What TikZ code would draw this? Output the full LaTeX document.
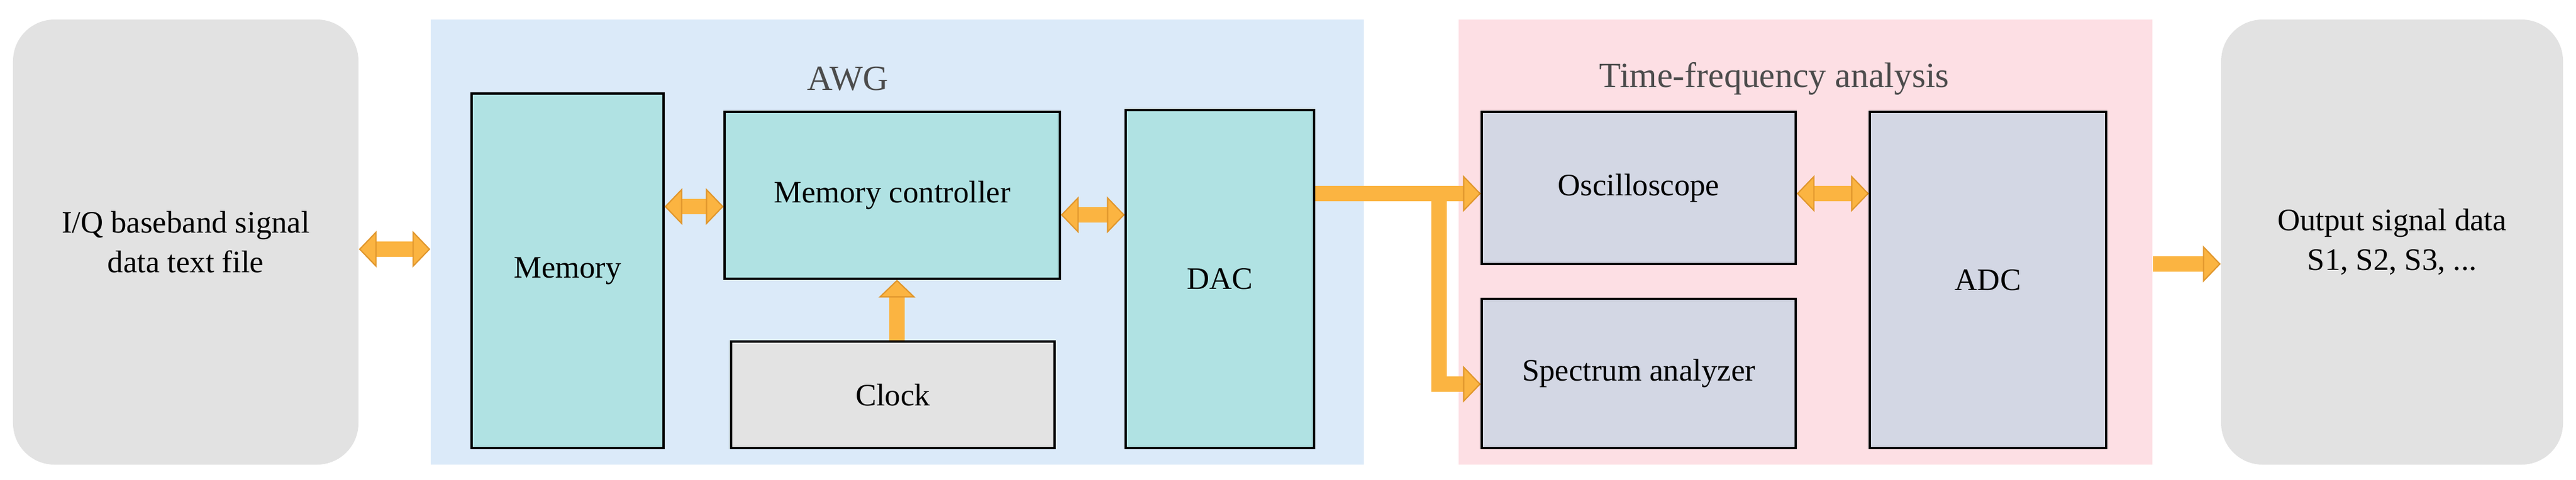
\documentclass[tikz,border=0pt]{standalone}
\usepackage{fontspec}
\setmainfont{Liberation Serif}
\usetikzlibrary{arrows.meta}
\definecolor{sidegray}{HTML}{E2E2E2}
\definecolor{awgblue}{HTML}{DBEAF9}
\definecolor{tfpink}{HTML}{FDDFE4}
\definecolor{teal}{HTML}{B0E2E3}
\definecolor{slate}{HTML}{D3D7E4}
\definecolor{clockgray}{HTML}{E3E3E3}
\definecolor{arrfill}{HTML}{FBB441}
\definecolor{arredge}{HTML}{E0962C}
\begin{document}
\begin{tikzpicture}[x=1cm,y=-1cm,
  txt/.style={font=\fontsize{15}{19}\selectfont, align=center},
  blk/.style={draw=black, line width=0.9pt, inner sep=0pt, txt},
  bg/.style={draw=none, inner sep=0pt},
  side/.style={bg, fill=sidegray, rounded corners=0.7cm, txt},
  fat/.style={draw=arrfill, line width=0.26cm, -{Triangle[length=0.3cm,width=0.62cm,fill=arrfill,color=arredge,line width=0.6pt]}},
  dfat/.style={draw=arrfill, line width=0.26cm, {Triangle[length=0.3cm,width=0.62cm,fill=arrfill,color=arredge,line width=0.6pt]}-{Triangle[length=0.3cm,width=0.62cm,fill=arrfill,color=arredge,line width=0.6pt]}},
  ttl/.style={font=\fontsize{17}{20}\selectfont, text=black!70}]
\useasboundingbox (0,0) rectangle (43.48,8.10);
% backgrounds
\node[side, minimum width=5.83cm, minimum height=7.52cm] (iq) at (3.135,4.09) {I/Q baseband signal\\data text file};
\node[bg, fill=awgblue, minimum width=15.75cm, minimum height=7.52cm] (awg) at (15.145,4.09) {};
\node[bg, fill=tfpink, minimum width=11.71cm, minimum height=7.52cm] (tf) at (30.475,4.09) {};
\node[side, minimum width=5.77cm, minimum height=7.52cm] (out) at (40.375,4.09) {Output signal data\\S1, S2, S3, ...};
\node[ttl] (awgl) at (14.31,1.33) {AWG};
\node[ttl] (tfl) at (29.95,1.33) {Time-frequency analysis};
% blocks
\node[blk, fill=teal, minimum width=3.24cm, minimum height=5.99cm] (mem) at (9.58,4.575) {Memory};
\node[blk, fill=teal, minimum width=5.66cm, minimum height=2.82cm] (mc) at (15.06,3.30) {};
\node[txt] (mct) at (15.06,3.30) {Memory controller};
\node[blk, fill=clockgray, minimum width=5.46cm, minimum height=1.80cm] (clk) at (15.07,6.67) {Clock};
\node[blk, fill=teal, minimum width=3.18cm, minimum height=5.71cm] (dac) at (20.59,4.715) {DAC};
\node[blk, fill=slate, minimum width=5.30cm, minimum height=2.57cm] (osc) at (27.66,3.175) {};
\node[txt] (osct) at (27.66,3.18) {Oscilloscope};
\node[blk, fill=slate, minimum width=5.30cm, minimum height=2.52cm] (spa) at (27.66,6.31) {};
\node[txt] (spat) at (27.66,6.31) {Spectrum analyzer};
\node[blk, fill=slate, minimum width=3.99cm, minimum height=5.68cm] (adc) at (33.555,4.73) {ADC};
% arrows
\draw[dfat] (iq.east |- 0,4.21) -- (awg.west |- 0,4.21);
\draw[dfat] (mem.east |- 0,3.49) -- (mc.west |- 0,3.49);
\draw[dfat] (mc.east |- 0,3.63) -- (dac.west |- 0,3.63);
\draw[fat] (clk.north -| 15.14,0) -- (mc.south -| 15.14,0);
\coordinate (br) at (24.29,3.27);
\draw[fat] (dac.east |- 0,3.27) -- (osc.west |- 0,3.27);
\draw[fat] (br) -- (24.29,6.49) -- (spa.west |- 0,6.49);
\draw[dfat] (osc.east |- 0,3.27) -- (adc.west |- 0,3.27);
\draw[fat] (tf.east |- 0,4.46) -- (out.west |- 0,4.46);
\end{tikzpicture}
\end{document}
